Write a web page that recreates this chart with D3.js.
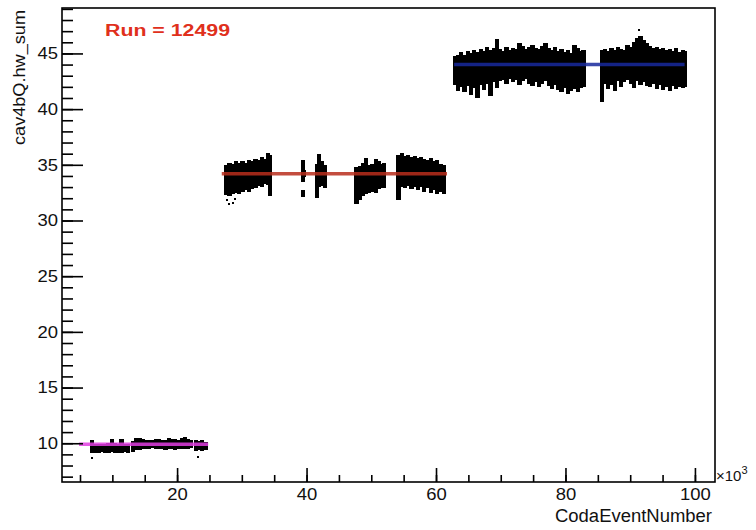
<!DOCTYPE html>
<html>
<head>
<meta charset="utf-8">
<script src="https://cdn.jsdelivr.net/npm/d3@7"></script>
<style>
  html, body { margin: 0; padding: 0; background: #fff; }
  svg { display: block; }
  text { font-family: "Liberation Sans", Arial, Helvetica, sans-serif; fill: #111; }
</style>
</head>
<body>
<svg id="chart" width="756" height="530"></svg>
<script>
// ---------- data (x in units of 10^3 events) ----------
// each entry: [CodaEventNumber/1000 (bin centre), lowest hw_sum, highest hw_sum]
const bandLow = [
  [6.9,9.15,10.3],[7.4,9.1,9.95],[7.9,9.15,9.9],[8.4,9.2,9.95],[8.9,9.1,9.9],[9.4,9.15,10.0],
  [9.9,9.2,10.35],[10.4,9.15,10.0],[10.9,9.1,9.95],[11.4,9.15,10.4],[11.9,9.2,9.95],[12.4,9.1,9.9],
  [13.2,9.2,10.2],[13.7,9.35,10.45],[14.2,9.4,10.5],[14.7,9.45,10.35],[15.2,9.5,10.3],[15.7,9.45,10.25],
  [16.2,9.55,10.3],[16.7,9.5,10.4],[17.2,9.45,10.35],[17.7,9.5,10.3],[18.2,9.4,10.25],[18.7,9.45,10.45],
  [19.2,9.5,10.35],[19.7,9.4,10.4],[20.2,9.45,10.3],[20.7,9.5,10.5],[21.2,9.45,10.6],[21.7,9.5,10.4],
  [22.2,9.55,10.3],[22.9,9.3,10.3],[23.4,9.35,10.2],[23.9,9.3,10.25],[24.4,9.35,10.15]
];
const bandMid = [
  [27.6,32.3,35.0],[28.1,32.2,35.2],[28.6,32.4,35.1],[29.1,32.5,35.3],[29.6,32.4,35.15],[30.1,32.6,35.3],
  [30.6,32.7,35.2],[31.1,32.6,35.4],[31.6,32.8,35.3],[32.1,32.9,35.5],[32.6,33.1,35.4],[33.1,33.0,35.7],
  [33.6,33.3,35.5],[34.1,33.2,36.1],[34.4,32.2,35.9],
  [39.4,33.5,35.4],[39.4,32.1,32.7],[39.6,33.9,34.5],
  [41.6,32.0,35.1],[41.9,33.0,36.0],[42.4,33.1,35.3],[42.9,32.9,35.0],
  [47.7,31.5,34.8],[48.2,31.8,34.9],[48.7,32.2,35.2],[49.2,32.4,35.6],[49.7,32.5,35.0],[50.2,32.6,35.1],
  [50.7,32.5,35.5],[51.2,32.8,35.3],[51.7,32.9,35.1],[52.0,32.9,35.2],
  [54.2,31.8,35.9],[54.7,33.0,36.1],[55.2,32.9,35.8],[55.7,33.1,35.9],[56.2,32.8,35.7],[56.7,33.0,35.8],
  [57.2,32.7,35.6],[57.7,33.0,35.7],[58.2,32.6,35.5],[58.7,32.9,35.4],[59.2,32.5,35.6],[59.7,32.7,35.3],
  [60.2,32.4,35.4],[60.7,32.6,35.1],[61.2,32.4,35.0]
];
const bandHigh = [
  [62.9,42.2,44.8],[63.4,41.6,44.9],[63.9,42.0,45.1],[64.4,41.5,44.9],[64.9,42.1,45.2],[65.4,41.3,45.0],
  [65.9,41.9,45.3],[66.4,41.0,45.1],[66.9,42.2,45.4],[67.4,41.7,45.2],[67.9,42.3,45.6],[68.4,41.2,45.3],
  [68.9,42.4,45.5],[69.4,41.9,46.3],[69.9,42.5,45.4],[70.4,42.6,45.2],[70.9,42.3,45.6],[71.4,42.7,45.3],
  [71.9,42.4,45.5],[72.4,42.6,45.4],[72.9,42.2,45.9],[73.4,42.5,45.7],[73.9,42.7,45.4],[74.4,42.3,45.6],
  [74.9,42.1,45.8],[75.4,42.4,45.5],[75.9,42.0,45.4],[76.4,42.3,45.7],[76.9,42.5,45.9],[77.4,42.1,45.5],
  [77.9,41.8,45.3],[78.4,42.2,45.6],[78.9,41.7,45.2],[79.4,41.5,45.4],[79.9,41.9,45.1],[80.4,41.4,45.3],
  [80.9,41.6,45.0],[81.4,41.8,45.8],[81.9,41.5,45.5],[82.4,41.9,45.2],[82.8,42.0,45.3],
  [85.7,40.6,45.3],[86.1,42.3,45.4],[86.6,41.8,45.2],[87.1,42.2,45.5],[87.6,41.6,45.3],[88.1,42.5,45.6],
  [88.6,42.0,45.4],[89.1,42.4,45.3],[89.6,42.6,45.8],[90.1,42.3,45.6],[90.6,41.9,46.0],[91.1,42.5,46.4],
  [91.6,42.2,46.6],[92.1,42.4,46.2],[92.6,42.1,45.9],[93.1,42.0,45.7],[93.6,42.3,45.5],[94.1,41.8,45.6],
  [94.6,42.2,45.4],[95.1,41.7,45.5],[95.6,42.0,45.3],[96.1,41.6,45.4],[96.6,42.1,45.2],[97.1,41.8,45.5],
  [97.6,42.0,45.1],[98.1,41.9,45.3],[98.4,42.0,45.2]
];
// isolated points: [x/1000, hw_sum]
const outliers = [[6.9,8.65],[23.2,8.75],[27.7,31.8],[28.0,31.5],[28.6,31.6],[28.9,31.9],[91.3,47.1]];

// fitted constant levels
const fitLevel = [9.9, 34.2, 44.0];
const fitStart = [4.85, 26.9, 62.8];
const fitEnd   = [24.8, 61.7, 98.4];

const xTicksMajor = [20, 40, 60, 80, 100];
const xTicksMinor = d3.range(5, 101, 5);
const yTicksMajor = [10, 15, 20, 25, 30, 35, 40, 45];
const yTicksMinor = d3.range(7, 50, 1);

const xTitle = "CodaEventNumber";
const yTitle = "cav4bQ.hw_sum";
const runLabel = "Run = 12499";

// ---------- layout ----------
const L = 62, R = 715, T = 8, B = 482;
const svg = d3.select("#chart");
const x = d3.scaleLinear().domain([2.22, 103.1]).range([L, R]);
const y = d3.scaleLinear().domain([6.52, 49.08]).range([B, T]);
const fitColors = ["#e23ee2", "#b82e1c", "#17299c"];
const binW = 0.5;

// ---------- data marks ----------
const g = svg.append("g").attr("shape-rendering", "crispEdges");
[bandLow, bandMid, bandHigh].forEach(band => {
  g.selectAll(null).data(band).enter().append("rect")
    .attr("x", d => Math.floor(x(d[0] - binW / 2)))
    .attr("width", d => Math.ceil(x(d[0] + binW / 2)) - Math.floor(x(d[0] - binW / 2)))
    .attr("y", d => Math.round(y(d[2])))
    .attr("height", d => Math.round(y(d[1])) - Math.round(y(d[2])))
    .attr("fill", "#000");
});
g.selectAll(null).data(outliers).enter().append("rect")
  .attr("x", d => Math.round(x(d[0])) - 1).attr("y", d => Math.round(y(d[1])) - 1)
  .attr("width", 2).attr("height", 2).attr("fill", "#000");

// fit lines
const fl = svg.append("g");
fitLevel.forEach((lv, i) => {
  fl.append("line")
    .attr("x1", x(fitStart[i])).attr("x2", x(fitEnd[i]))
    .attr("y1", y(lv)).attr("y2", y(lv))
    .attr("stroke", fitColors[i]).attr("stroke-width", 3.5)
    .attr("stroke-opacity", 0.85);
});

// ---------- axes ----------
const axG = svg.append("g");
axG.append("g").attr("transform", `translate(0,${B})`)
  .call(d3.axisBottom(x).tickValues(xTicksMinor).tickSize(-7).tickFormat(""))
  .call(s => s.select(".domain").remove());
axG.append("g").attr("transform", `translate(0,${B})`)
  .call(d3.axisBottom(x).tickValues(xTicksMajor).tickSize(-14).tickPadding(6).tickFormat(d3.format("d")))
  .call(s => s.select(".domain").remove())
  .call(s => s.selectAll("text").attr("font-size", 16.5).attr("fill", "#111")
      .attr("font-family", "Liberation Sans, Arial, sans-serif")
      .attr("transform", "scale(1.12,1)"));
axG.append("g").attr("transform", `translate(${L},0)`)
  .call(d3.axisLeft(y).tickValues(yTicksMinor).tickSize(-11).tickFormat(""))
  .call(s => s.select(".domain").remove());
axG.append("g").attr("transform", `translate(${L},0)`)
  .call(d3.axisLeft(y).tickValues(yTicksMajor).tickSize(-21).tickPadding(3.6).tickFormat(d3.format("d")))
  .call(s => s.select(".domain").remove())
  .call(s => s.selectAll("text").attr("font-size", 16.5).attr("fill", "#111")
      .attr("font-family", "Liberation Sans, Arial, sans-serif")
      .attr("transform", "scale(1.12,1)"));
axG.selectAll(".tick line").attr("stroke", "#000").attr("stroke-width", 1.6);

// frame
svg.append("rect").attr("x", L).attr("y", T).attr("width", R - L).attr("height", B - T)
  .attr("fill", "none").attr("stroke", "#000").attr("stroke-width", 1.6);

// ---------- texts ----------
svg.append("text").attr("x", 712).attr("y", 522).attr("text-anchor", "end")
  .attr("font-size", 18).attr("textLength", 157).attr("lengthAdjust", "spacingAndGlyphs")
  .text(xTitle);

svg.append("text").attr("transform", "translate(25,10) rotate(-90)")
  .attr("text-anchor", "end").attr("font-size", 17)
  .attr("textLength", 135).attr("lengthAdjust", "spacingAndGlyphs")
  .text(yTitle);

const ex = svg.append("text").attr("x", 716).attr("y", 481).attr("font-size", 15);
ex.append("tspan").text("\u00d710");
ex.append("tspan").attr("dy", -7).attr("font-size", 11).text("3");

svg.append("text").attr("x", 105).attr("y", 35.5)
  .attr("font-size", 16).attr("font-weight", "bold").style("fill", "#e0301c")
  .attr("textLength", 125).attr("lengthAdjust", "spacingAndGlyphs")
  .text(runLabel);
</script>
</body>
</html>
